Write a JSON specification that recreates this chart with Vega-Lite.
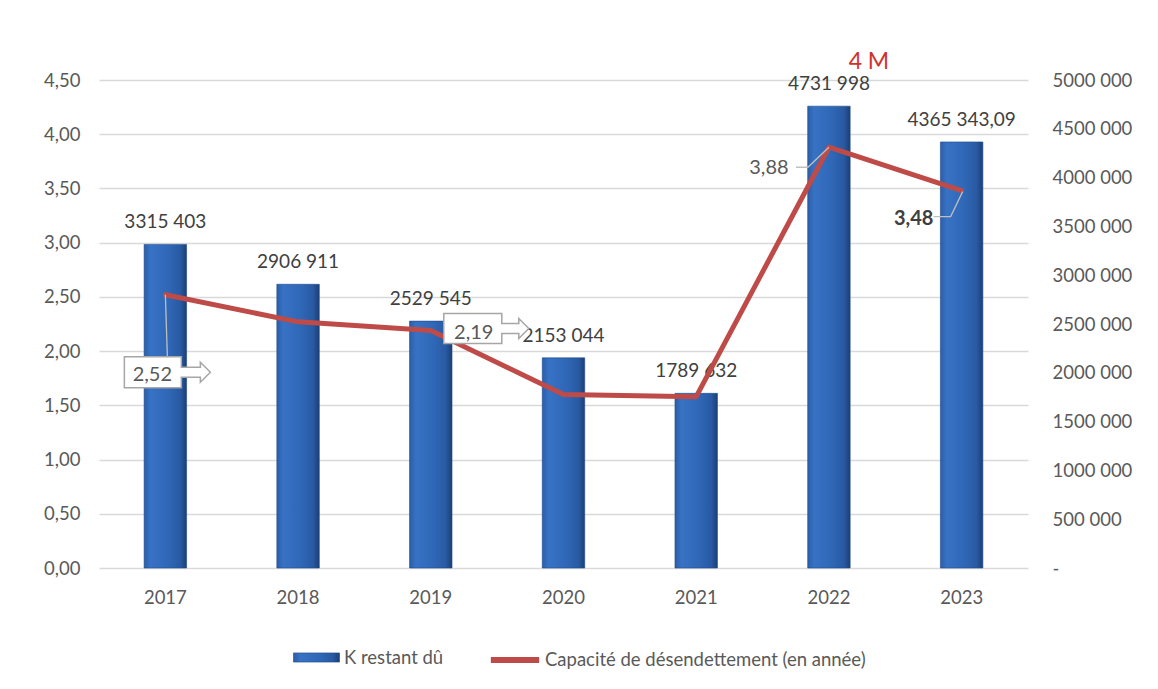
{
  "$schema": "https://vega.github.io/schema/vega-lite/v6.json",
  "width": 929,
  "height": 488,
  "autosize": {"type": "none"},
  "padding": {"left": 99, "top": 80, "right": 130, "bottom": 121},
  "background": "white",
  "config": {
    "font": "Lato",
    "view": {"stroke": null},
    "locale": {"number": {"decimal": ",", "thousands": " ", "grouping": [3], "currency": ["", ""]}},
    "axis": {"labelFont": "Lato", "labelFontSize": 18.5, "labelColor": "#595959", "ticks": false, "domain": false, "title": null},
    "legend": {"labelFont": "Lato", "labelFontSize": 18.5, "labelColor": "#595959", "labelLimit": 0, "labelOffset": 4, "title": null, "symbolSize": 2116}
  },
  "data": {
    "values": [
      {"year": "2017", "k": 3315403, "k_label": "3315 403", "cap": 2.52, "note": null},
      {"year": "2018", "k": 2906911, "k_label": "2906 911", "cap": 2.27, "note": null},
      {"year": "2019", "k": 2529545, "k_label": "2529 545", "cap": 2.19, "note": null},
      {"year": "2020", "k": 2153044, "k_label": "2153 044", "cap": 1.6, "note": null},
      {"year": "2021", "k": 1789632, "k_label": "1789 632", "cap": 1.58, "note": null},
      {"year": "2022", "k": 4731998, "k_label": "4731 998", "cap": 3.88, "note": "4 M"},
      {"year": "2023", "k": 4365343.09, "k_label": "4365 343,09", "cap": 3.48, "note": null}
    ]
  },
  "encoding": {
    "x": {
      "field": "year", "type": "ordinal", "sort": null,
      "scale": {"paddingInner": 0.68, "paddingOuter": 0.34},
      "axis": {"labelPadding": 20, "labelAngle": 0, "grid": false}
    }
  },
  "layer": [
    {
      "encoding": {
        "y": {
          "field": "k", "type": "quantitative",
          "scale": {"domain": [0, 5000000], "nice": false, "zero": true},
          "axis": {
            "orient": "right", "grid": false, "labelPadding": 24,
            "values": [0, 500000, 1000000, 1500000, 2000000, 2500000, 3000000, 3500000, 4000000, 4500000, 5000000],
            "labelExpr": "datum.value == 0 ? '-' : floor(datum.value / 1000) + ' 000'"
          }
        }
      },
      "layer": [
        {
          "mark": {
            "type": "bar",
            "strokeWidth": 0.6,
            "fill": {
              "gradient": "linear", "x1": 0, "y1": 0, "x2": 1, "y2": 0,
              "stops": [
                {"offset": 0, "color": "#2A5EA8"},
                {"offset": 0.15, "color": "#3872C4"},
                {"offset": 0.55, "color": "#3068B8"},
                {"offset": 0.85, "color": "#295AA2"},
                {"offset": 1, "color": "#1B3F78"}
              ]
            }
          },
          "encoding": {
            "stroke": {
              "datum": "K restant dû", "type": "nominal",
              "scale": {"range": ["#1F4A8A"]},
              "legend": {
                "orient": "none", "legendX": 194, "legendY": 554, "direction": "horizontal",
                "symbolType": "M-1,-0.2H1V0.2H-1Z", "symbolStrokeWidth": 0.6
              }
            }
          }
        },
        {
          "mark": {"type": "text", "baseline": "middle", "align": "center", "dy": -22, "fontSize": 19, "color": "#404040", "font": "Lato"},
          "encoding": {"text": {"field": "k_label"}}
        },
        {
          "transform": [{"filter": "datum.note != null"}],
          "mark": {"type": "text", "baseline": "middle", "align": "center", "dx": 40, "dy": -44, "fontSize": 23, "color": "#D0312D", "font": "Lato"},
          "encoding": {"text": {"field": "note"}}
        }
      ]
    },
    {
      "encoding": {
        "y": {
          "field": "cap", "type": "quantitative",
          "scale": {"domain": [0, 4.5], "nice": false, "zero": true},
          "axis": {
            "orient": "left", "grid": true, "gridColor": "#D9D9D9", "gridWidth": 1.5, "labelPadding": 19,
            "values": [0, 0.5, 1, 1.5, 2, 2.5, 3, 3.5, 4, 4.5], "format": ".2f"
          }
        }
      },
      "layer": [
        {
          "mark": {"type": "line", "strokeWidth": 5, "interpolate": "linear", "strokeCap": "round", "strokeJoin": "round"},
          "encoding": {
            "color": {
              "datum": "Capacité de désendettement (en année)", "type": "nominal",
              "scale": {"range": ["#BE4B48"]},
              "legend": {
                "orient": "none", "legendX": 390, "legendY": 554, "direction": "horizontal",
                "symbolType": "M-1.05,0H1.05", "symbolStrokeWidth": 6
              }
            }
          }
        },
        {
          "transform": [{"filter": "datum.year == '2017' || datum.year == '2022' || datum.year == '2023'"}],
          "mark": {"type": "point", "filled": false, "stroke": "#BFBFBF", "strokeWidth": 1.3, "size": 10000, "opacity": 1},
          "encoding": {
            "shape": {
              "field": "year", "type": "nominal", "legend": null,
              "scale": {"domain": ["2017", "2022", "2023"], "range": ["M0,0L0.04,1.24", "M-0.66,0.4H-0.42L0,0", "M-0.56,0.52H-0.22L0.02,0.02"]}
            }
          }
        },
        {
          "transform": [{"filter": "datum.year == '2017' || datum.year == '2019'"}],
          "mark": {"type": "point", "filled": true, "fill": "white", "stroke": "#A6A6A6", "strokeWidth": 1.5, "size": 10000, "opacity": 1},
          "encoding": {
            "shape": {
              "field": "year", "type": "nominal", "legend": null,
              "scale": {"domain": ["2017", "2019"], "range": [
                "M-0.82,1.24H0.32V1.45H0.7V1.35L0.9,1.55L0.7,1.75V1.65H0.32V1.86H-0.82Z",
                "M0.26,-0.34H1.42V-0.14H1.76V-0.24L1.96,-0.04L1.76,0.16V0.06H1.42V0.26H0.26Z"
              ]}
            }
          }
        },
        {
          "transform": [{"filter": "datum.year == '2017'"}],
          "mark": {"type": "text", "align": "center", "baseline": "middle", "dx": -13, "dy": 80, "fontSize": 20, "color": "#595959", "font": "Lato"},
          "encoding": {"text": {"field": "cap", "type": "quantitative", "format": ".2f"}}
        },
        {
          "transform": [{"filter": "datum.year == '2019'"}],
          "mark": {"type": "text", "align": "center", "baseline": "middle", "dx": 43, "dy": 2, "fontSize": 20, "color": "#595959", "font": "Lato"},
          "encoding": {"text": {"field": "cap", "type": "quantitative", "format": ".2f"}}
        },
        {
          "transform": [{"filter": "datum.year == '2022'"}],
          "mark": {"type": "text", "align": "center", "baseline": "middle", "dx": -60, "dy": 21, "fontSize": 20, "color": "#595959", "font": "Lato"},
          "encoding": {"text": {"field": "cap", "type": "quantitative", "format": ".2f"}}
        },
        {
          "transform": [{"filter": "datum.year == '2023'"}],
          "mark": {"type": "text", "align": "center", "baseline": "middle", "dx": -48, "dy": 28, "fontSize": 20, "fontWeight": "bold", "color": "#404040", "font": "Lato"},
          "encoding": {"text": {"field": "cap", "type": "quantitative", "format": ".2f"}}
        }
      ],
      "resolve": {"scale": {"shape": "independent"}}
    }
  ],
  "resolve": {"scale": {"y": "independent"}}
}
